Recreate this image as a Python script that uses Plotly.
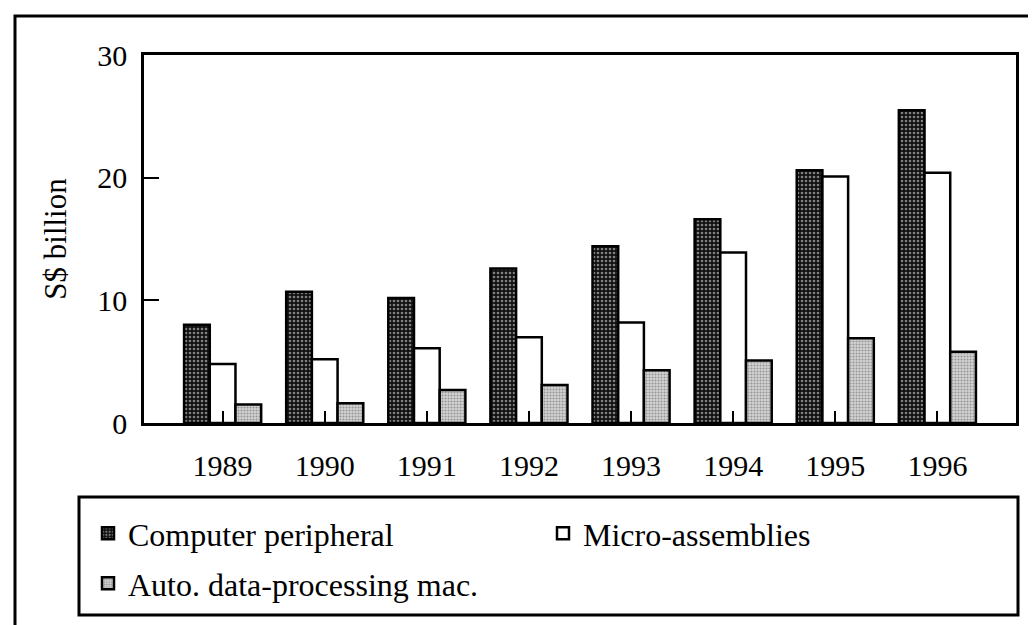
import plotly.graph_objects as go

# --- data ---
years = ["1989", "1990", "1991", "1992", "1993", "1994", "1995", "1996"]
computer_peripheral = [8.0, 10.7, 10.2, 12.6, 14.4, 16.6, 20.6, 25.5]
micro_assemblies = [4.8, 5.2, 6.1, 7.0, 8.2, 13.9, 20.1, 20.4]
auto_data_processing = [1.5, 1.6, 2.7, 3.1, 4.3, 5.1, 6.9, 5.8]

FONT = "Liberation Serif, Times New Roman, serif"
FS = 30

# plot area in pixels (for placing paper-referenced extras)
L, R, T, B = 136, 1008, 47, 415
W, H = 1036, 625


def px_x(p):
    return (p - L) / (R - L)


def px_y(p):
    return (B - p) / (B - T)


fig = go.Figure()

fig.add_trace(go.Bar(
    x=years, y=computer_peripheral, name="Computer peripheral",
    marker=dict(color="#111111", line=dict(color="black", width=2.5),
                pattern=dict(shape=".", bgcolor="#111111", fgcolor="#f0f0f0",
                             size=4, solidity=0.35, fillmode="overlay")),
    legend="legend",
))
fig.add_trace(go.Bar(
    x=years, y=micro_assemblies, name="Micro-assemblies",
    marker=dict(color="white", line=dict(color="black", width=2.5)),
    legend="legend",
))
fig.add_trace(go.Bar(
    x=years, y=auto_data_processing, name="Auto. data-processing mac.",
    marker=dict(color="#d0d0d0", line=dict(color="black", width=2.5),
                pattern=dict(shape=".", bgcolor="#d4d4d4", fgcolor="#555555",
                             size=3, solidity=0.4, fillmode="overlay")),
    legend="legend2",
))

# outer frame + legend box
fig.add_shape(type="rect", xref="paper", yref="paper",
              x0=px_x(7), x1=px_x(1031), y0=px_y(640), y1=px_y(8),
              line=dict(color="black", width=3), layer="below")
fig.add_shape(type="rect", xref="paper", yref="paper",
              x0=px_x(71), x1=px_x(1010), y0=px_y(607), y1=px_y(489),
              line=dict(color="black", width=3), layer="below")

fig.update_layout(
    width=W, height=H,
    margin=dict(l=L, r=W - R, t=T, b=H - B),
    paper_bgcolor="white", plot_bgcolor="white",
    font=dict(family=FONT, size=FS, color="black"),
    barmode="group", bargap=0.245, bargroupgap=0.0,
    legend=dict(orientation="h", x=px_x(80), y=px_y(498),
                xanchor="left", yanchor="top",
                entrywidth=410, entrywidthmode="pixels",
                font=dict(family=FONT, size=32), bgcolor="rgba(0,0,0,0)"),
    legend2=dict(orientation="h", x=px_x(80), y=px_y(548),
                 xanchor="left", yanchor="top",
                 font=dict(family=FONT, size=32), bgcolor="rgba(0,0,0,0)"),
)

fig.update_xaxes(
    type="category", range=[-0.77, 7.77],
    showline=True, linecolor="black", linewidth=2.5, mirror=True,
    ticks="inside", ticklen=12, tickwidth=2, tickcolor="black",
    ticklabelstandoff=14, showgrid=False,
    tickfont=dict(family=FONT, size=FS),
)
fig.update_yaxes(
    range=[0, 30], dtick=10,
    showline=True, linecolor="black", linewidth=2.5, mirror=True,
    ticks="inside", ticklen=15, tickwidth=2, tickcolor="black",
    ticklabelstandoff=8, showgrid=False, zeroline=False,
    tickfont=dict(family=FONT, size=FS),
    title=dict(text="S$ billion", font=dict(family=FONT, size=31), standoff=22),
)

fig.write_html("out.html")
